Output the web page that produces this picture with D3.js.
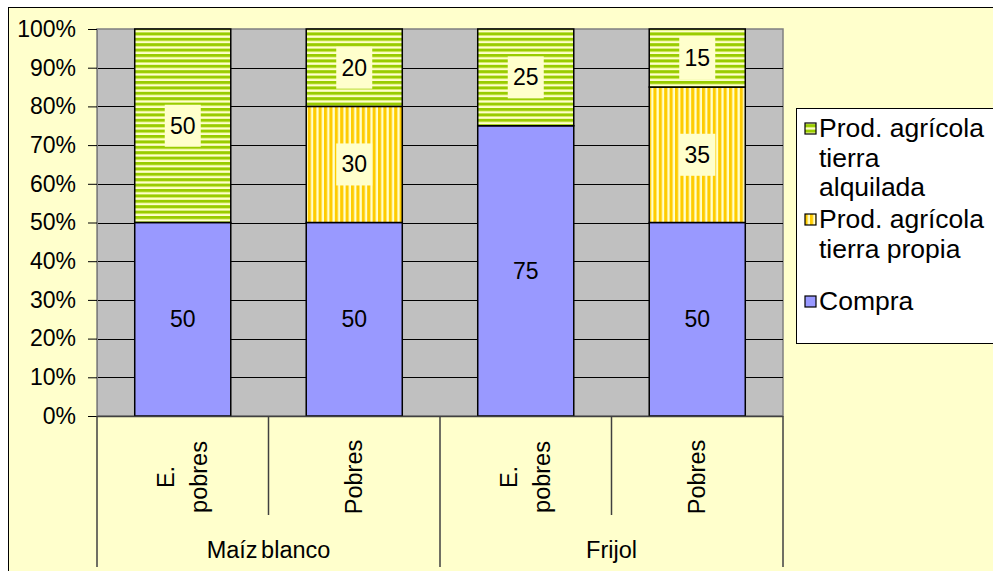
<!DOCTYPE html>
<html>
<head>
<meta charset="utf-8">
<script src="https://cdn.jsdelivr.net/npm/d3@7"></script>
<style>
  html, body { margin: 0; padding: 0; background: #ffffff; }
  svg { display: block; }
  text { font-family: "Liberation Sans", Arial, sans-serif; fill: #000; }
</style>
</head>
<body>
<svg id="chart" width="993" height="571"></svg>
<script>
// Fuente de alimentos por grupo de pobreza (porcentaje)
const groups = ["Maíz blanco", "Frijol"];
const subgroups = [["E.", "pobres"], ["Pobres"], ["E.", "pobres"], ["Pobres"]];
const groupOf = [0, 0, 1, 1];
const compra = [50, 50, 75, 50];
const tierraPropia = [0, 30, 0, 35];
const tierraAlquilada = [50, 20, 25, 15];
const yTicks = [0, 10, 20, 30, 40, 50, 60, 70, 80, 90, 100];
const seriesNames = ["Compra", "Prod. agrícola tierra propia", "Prod. agrícola tierra alquilada"];
const legendLines = [["Prod. agrícola", "tierra", "alquilada"], ["Prod. agrícola", "tierra propia"], ["Compra"]];

const svg = d3.select("#chart");
const W = 993, H = 571;

// pattern fills
const defs = svg.append("defs");
const pg = defs.append("pattern").attr("id", "pGreen").attr("patternUnits", "userSpaceOnUse")
  .attr("width", 10).attr("height", 5.4);
pg.append("rect").attr("width", 10).attr("height", 5.4).attr("fill", "#ffffcc");
pg.append("rect").attr("y", 0).attr("width", 10).attr("height", 2.7).attr("fill", "#99cc00");
pg.append("rect").attr("y", 2.7).attr("width", 10).attr("height", 0.8).attr("fill", "#d6eb66");
const py = defs.append("pattern").attr("id", "pYellow").attr("patternUnits", "userSpaceOnUse")
  .attr("width", 5.4).attr("height", 10);
py.append("rect").attr("width", 5.4).attr("height", 10).attr("fill", "#ffffcc");
py.append("rect").attr("x", 0).attr("width", 2.7).attr("height", 10).attr("fill", "#ffcc00");
py.append("rect").attr("x", 2.7).attr("width", 0.8).attr("height", 10).attr("fill", "#ffe266");

const fills = ["#9999ff", "url(#pYellow)", "url(#pGreen)"];

// chart area
svg.append("rect").attr("x", 8.5).attr("y", 7.5).attr("width", W).attr("height", H)
  .attr("fill", "#ffffcc").attr("stroke", "#000").attr("stroke-width", 1);

const plot = { left: 97, right: 783, top: 29, bottom: 416 };

const y = d3.scaleLinear().domain([0, 100]).range([plot.bottom, plot.top]);
const idx = d3.range(compra.length);
const x = d3.scaleBand().domain(idx).range([plot.left, plot.right])
  .paddingInner(0.44).paddingOuter(0.22);
const xCell = d3.scaleBand().domain(idx).range([plot.left, plot.right]).padding(0);

// plot area
svg.append("rect").attr("x", plot.left).attr("y", plot.top)
  .attr("width", plot.right - plot.left).attr("height", plot.bottom - plot.top)
  .attr("fill", "#c0c0c0").attr("stroke", "#808080").attr("stroke-width", 1.5);

// gridlines
svg.append("g").selectAll("line").data(yTicks.filter(d => d > 0 && d < 100)).join("line")
  .attr("x1", plot.left).attr("x2", plot.right)
  .attr("y1", d => Math.round(y(d)) + 0.5).attr("y2", d => Math.round(y(d)) + 0.5)
  .attr("stroke", "#000").attr("stroke-width", 1);

// y axis
const yAxis = d3.axisLeft(y).tickValues(yTicks).tickFormat(d => d + "%")
  .tickSize(9).tickPadding(12);
const gy = svg.append("g").attr("transform", `translate(${plot.left},0)`).call(yAxis);
gy.select(".domain").attr("stroke", "#808080");
gy.selectAll(".tick line").attr("stroke", "#000");
gy.selectAll(".tick text").style("font-size", "23px").style("font-family", "Liberation Sans, Arial, sans-serif").attr("fill", "#000");

// stacked bars
const rows = idx.map(i => ({ i, compra: compra[i], propia: tierraPropia[i], alquilada: tierraAlquilada[i] }));
const stack = d3.stack().keys(["compra", "propia", "alquilada"]);
const series = stack(rows);

const gBars = svg.append("g");
series.forEach((s, si) => {
  gBars.append("g").selectAll("rect").data(s.filter(d => d[1] > d[0])).join("rect")
    .attr("x", d => x(d.data.i)).attr("width", x.bandwidth())
    .attr("y", d => y(d[1])).attr("height", d => y(d[0]) - y(d[1]))
    .attr("fill", fills[si]).attr("stroke", "#000").attr("stroke-width", 1.5);
});

// value labels
const gLab = svg.append("g");
series.forEach((s, si) => {
  const segs = s.filter(d => d[1] > d[0]);
  const g = gLab.append("g");
  if (si > 0) {
    g.selectAll("rect").data(segs).join("rect")
      .attr("x", d => x(d.data.i) + x.bandwidth() / 2 - 18)
      .attr("y", d => y((d[0] + d[1]) / 2) - 21)
      .attr("width", 36).attr("height", 42).attr("fill", "#ffffcc");
  }
  g.selectAll("text").data(segs).join("text")
    .attr("x", d => x(d.data.i) + x.bandwidth() / 2)
    .attr("y", d => y((d[0] + d[1]) / 2))
    .attr("text-anchor", "middle").attr("dominant-baseline", "central")
    .style("font-size", "23px")
    .text(d => d[1] - d[0]);
});

// category axis (two levels)
const axBottom = 571;
svg.append("line").attr("x1", plot.left).attr("x2", plot.right)
  .attr("y1", plot.bottom + 0.5).attr("y2", plot.bottom + 0.5).attr("stroke", "#404040").attr("stroke-width", 1.5);
const bounds = idx.map(i => xCell(i)).concat([plot.right]);
svg.append("g").selectAll("line").data(bounds).join("line")
  .attr("x1", d => d).attr("x2", d => d)
  .attr("y1", plot.bottom)
  .attr("y2", (d, k) => (k % 2 === 0 ? axBottom - 4 : 515))
  .attr("stroke", "#404040").attr("stroke-width", 1.5);

// rotated sub-category labels
const gSub = svg.append("g");
idx.forEach(i => {
  const cx = xCell(i) + xCell.bandwidth() / 2;
  const lines = subgroups[i];
  const lh = 33;
  lines.forEach((ln, k) => {
    const off = (k - (lines.length - 1) / 2) * lh;
    gSub.append("text")
      .attr("transform", `translate(${cx + off},477) rotate(-90)`)
      .attr("text-anchor", "middle").attr("dominant-baseline", "central")
      .style("font-size", "23.5px").text(ln);
  });
});

// group labels
groups.forEach((g, gi) => {
  const members = idx.filter(i => groupOf[i] === gi);
  const x0 = xCell(members[0]), x1 = xCell(members[members.length - 1]) + xCell.bandwidth();
  svg.append("text").attr("x", (x0 + x1) / 2).attr("y", 550)
    .attr("text-anchor", "middle").attr("dominant-baseline", "central")
    .style("font-size", "23.5px").style("word-spacing", "-3px").text(g);
});

// legend
const lg = svg.append("g");
lg.append("rect").attr("x", 796.5).attr("y", 108.5).attr("width", 220).attr("height", 235)
  .attr("fill", "#ffffff").attr("stroke", "#000").attr("stroke-width", 1);
const legendItems = [
  { fill: fills[2], lines: legendLines[0], y0: 128 },
  { fill: fills[1], lines: legendLines[1], y0: 219 },
  { fill: fills[0], lines: legendLines[2], y0: 301 }
];
legendItems.forEach(it => {
  lg.append("rect").attr("x", 805).attr("y", it.y0 - 5).attr("width", 11).attr("height", 11)
    .attr("fill", it.fill).attr("stroke", "#000").attr("stroke-width", 1.2);
  it.lines.forEach((ln, k) => {
    lg.append("text").attr("x", 819).attr("y", it.y0 + k * 29.5)
      .attr("dominant-baseline", "central").style("font-size", "26.5px").text(ln);
  });
});
</script>
</body>
</html>
